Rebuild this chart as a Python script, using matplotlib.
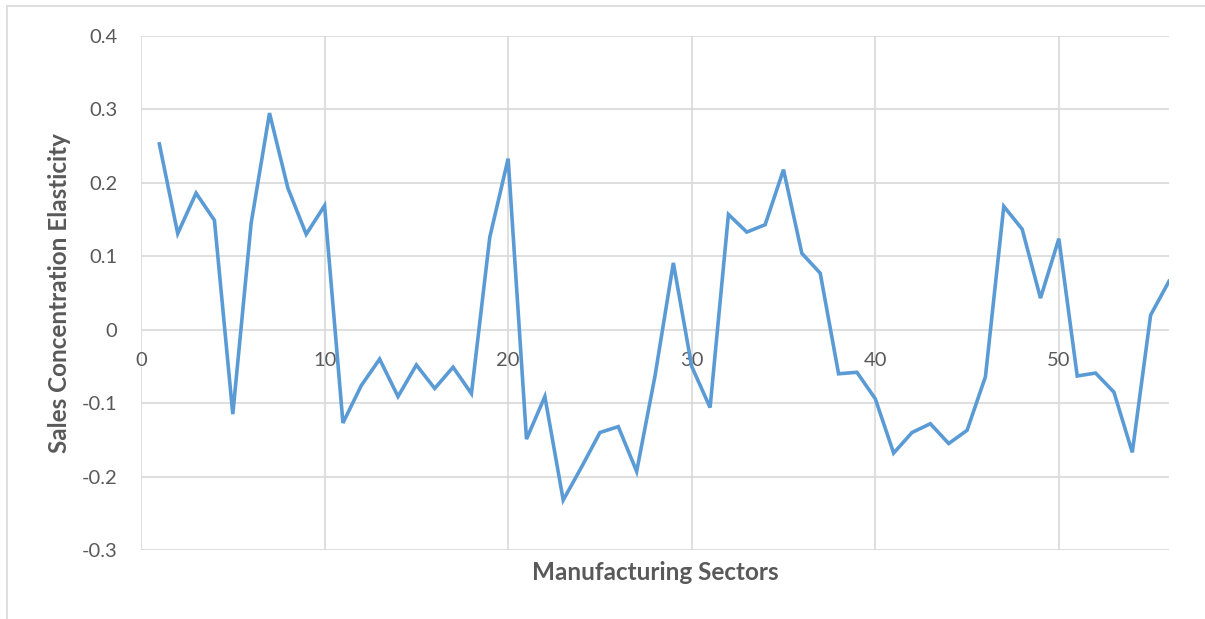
import matplotlib.pyplot as plt
from matplotlib.lines import Line2D

# sector index and its sales concentration elasticity
sectors = list(range(1, 57))
elasticity = [
    0.253, 0.131, 0.186, 0.149, -0.115, 0.145, 0.295, 0.193, 0.130, 0.169,
    -0.127, -0.076, -0.040, -0.091, -0.048, -0.080, -0.051, -0.087, 0.126, 0.233,
    -0.149, -0.091, -0.232, -0.187, -0.140, -0.132, -0.193, -0.063, 0.091, -0.050,
    -0.106, 0.157, 0.133, 0.143, 0.218, 0.104, 0.077, -0.060, -0.058, -0.094,
    -0.168, -0.140, -0.128, -0.155, -0.137, -0.064, 0.168, 0.137, 0.043, 0.124,
    -0.063, -0.059, -0.085, -0.167, 0.020, 0.066,
]
x_ticks = [0, 10, 20, 30, 40, 50]
y_ticks = [-0.3, -0.2, -0.1, 0, 0.1, 0.2, 0.3, 0.4]
y_labels = ['-0.3', '-0.2', '-0.1', '0', '0.1', '0.2', '0.3', '0.4']

grid_col = '#d9d9d9'
text_col = '#595959'
plt.rcParams['font.family'] = ['Lato', 'DejaVu Sans']

fig = plt.figure(figsize=(12.05, 6.19), dpi=100)
ax = fig.add_axes([141 / 1205, 69 / 619, 1028 / 1205, 514 / 619])

ax.plot(sectors, elasticity, color='#5b9bd5', lw=2.6, solid_joinstyle='miter', zorder=3)

ax.set_xlim(0, 56)
ax.set_ylim(-0.3, 0.4)
ax.set_xticks(x_ticks)
ax.set_yticks(y_ticks)
ax.set_yticklabels(y_labels)
ax.grid(True, color=grid_col, lw=1.2)
ax.set_axisbelow(True)

for s in ax.spines.values():
    s.set_visible(False)
ax.spines['bottom'].set_position(('data', 0))

ax.tick_params(axis='both', length=0, labelsize=14.5, labelcolor=text_col)
ax.tick_params(axis='x', pad=16)
ax.tick_params(axis='y', pad=17)

ax.set_xlabel('Manufacturing Sectors', fontsize=17.5, fontweight='bold', color=text_col)
ax.xaxis.set_label_coords(0.5, -0.022)
ax.set_ylabel('Sales Concentration Elasticity', fontsize=17.5, fontweight='bold', color=text_col)
ax.yaxis.set_label_coords(-0.068, 0.5)

# chart area frame (left and top edges)
top = 1 - 6 / 619
left = 7 / 1205
fig.add_artist(Line2D([left, 1], [top, top], color=grid_col, lw=1.2, transform=fig.transFigure))
fig.add_artist(Line2D([left, left], [0, top], color=grid_col, lw=1.2, transform=fig.transFigure))

fig.savefig('out.png', dpi=100)
